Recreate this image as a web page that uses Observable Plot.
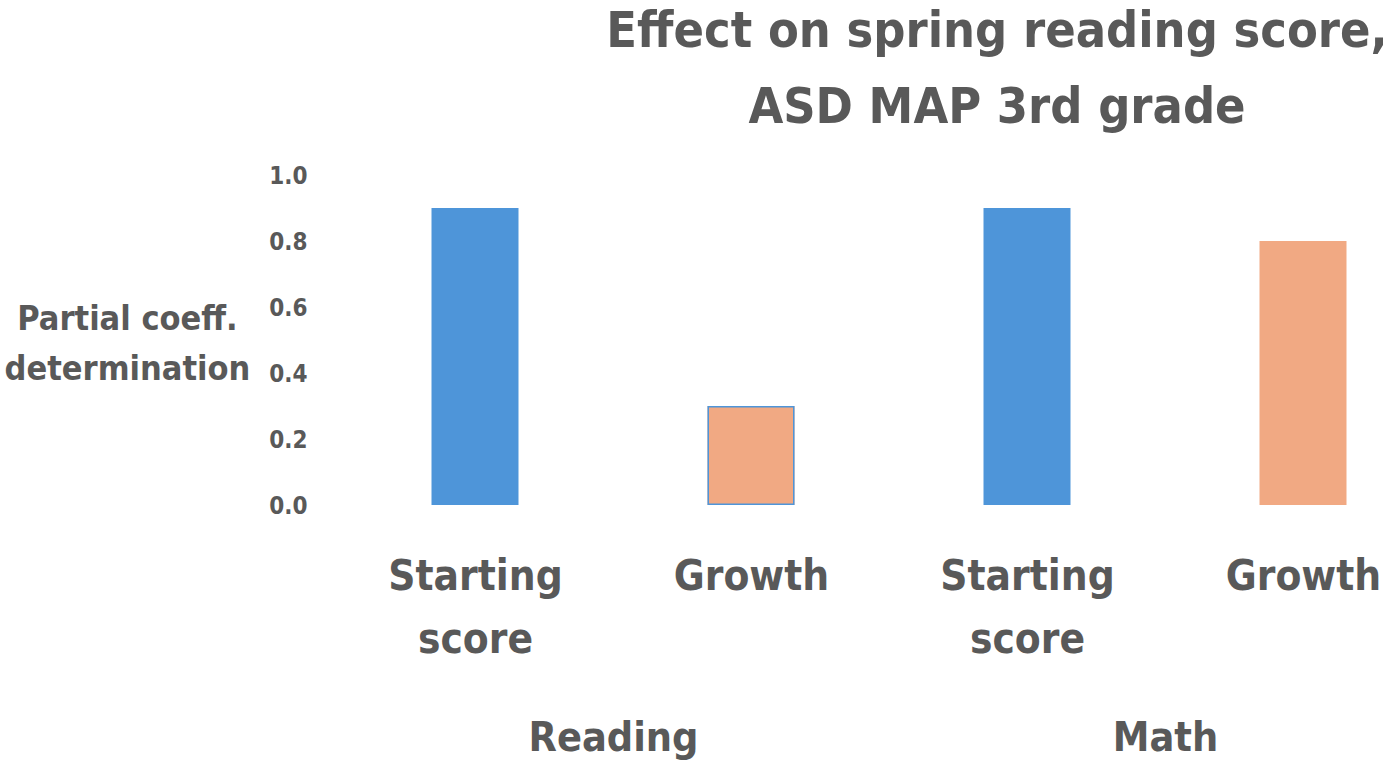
<!DOCTYPE html>
<html>
<head>
<meta charset="utf-8">
<script src="https://cdn.jsdelivr.net/npm/d3@7"></script>
<script src="https://cdn.jsdelivr.net/npm/@observablehq/plot@0.6"></script>
<style>
  html, body { margin: 0; padding: 0; background: #ffffff; overflow: hidden; }
  #chart svg { display: block; }
</style>
</head>
<body>
<div id="chart"></div>
<script>
// ---- Data ----
const titleLines = ["Effect on spring reading score,", "ASD MAP 3rd grade"];
const yLabelLines = ["Partial coeff.", "determination"];
const groupOrder = ["Reading", "Math"];
const measureOrder = ["Starting score", "Growth"];
const measureLabels = ["Starting\nscore", "Growth"];
const barGroups = ["Reading", "Reading", "Math", "Math"];
const barMeasures = ["Starting score", "Growth", "Starting score", "Growth"];
const barValues = [0.9, 0.3, 0.9, 0.8];
const yTicks = [0, 0.2, 0.4, 0.6, 0.8, 1.0];

const rows = barValues.map((v, i) => ({group: barGroups[i], measure: barMeasures[i], value: v}));
const labelOf = new Map(measureOrder.map((m, i) => [m, measureLabels[i]]));

const BLUE = "#4E95D9";
const ORANGE = "#F1A983";
const TEXT = "#595959";
const FONT = "'DejaVu Sans Condensed', 'DejaVu Sans', sans-serif";

const chart = Plot.plot({
  width: 1396,
  height: 765,
  marginTop: 175,
  marginBottom: 260,
  marginLeft: 336.5,
  marginRight: 0,
  style: {fontFamily: FONT, fontWeight: "bold", color: TEXT, background: "#ffffff", overflow: "visible"},
  fx: {domain: groupOrder, range: [336.5, 1440.5], padding: 0, axis: null},
  x: {domain: measureOrder, paddingInner: 0.685, paddingOuter: 0.3425, axis: null},
  y: {domain: [0, 1], axis: null},
  color: {domain: measureOrder, range: [BLUE, ORANGE]},
  marks: [
    Plot.barY(rows, {fx: "group", x: "measure", y: "value", fill: "measure", inset: 0}),
    Plot.barY(rows.filter(d => d.group === "Reading" && d.measure === "Growth"),
      {fx: "group", x: "measure", y: "value", fill: "none", stroke: BLUE, strokeWidth: 1.5, inset: 0.75}),
    Plot.axisY({ticks: yTicks, tickFormat: d3.format(".1f"), tickSize: 0, tickPadding: 30,
      fontSize: 24, dy: 1, label: null}),
    Plot.axisX({tickSize: 0, tickPadding: 40, fontSize: 42, lineHeight: 1.5,
      tickFormat: d => labelOf.get(d), label: null}),
    Plot.axisFx({anchor: "bottom", tickSize: 0, tickPadding: 216, fontSize: 41, label: null})
  ]
});

document.getElementById("chart").appendChild(chart);

// Title and y-axis label (non-data text)
const svg = d3.select(chart);
const title = svg.append("text")
  .attr("text-anchor", "middle")
  .attr("fill", TEXT)
  .attr("font-family", FONT)
  .attr("font-weight", "bold")
  .attr("font-size", 50);
titleLines.forEach((t, i) => {
  title.append("tspan").attr("x", 997).attr("y", 47 + i * 76).text(t);
});

const ylab = svg.append("text")
  .attr("text-anchor", "middle")
  .attr("fill", TEXT)
  .attr("font-family", FONT)
  .attr("font-weight", "bold")
  .attr("font-size", 34);
yLabelLines.forEach((t, i) => {
  ylab.append("tspan").attr("x", 127.5).attr("y", 330 + i * 50).text(t);
});
</script>
</body>
</html>
